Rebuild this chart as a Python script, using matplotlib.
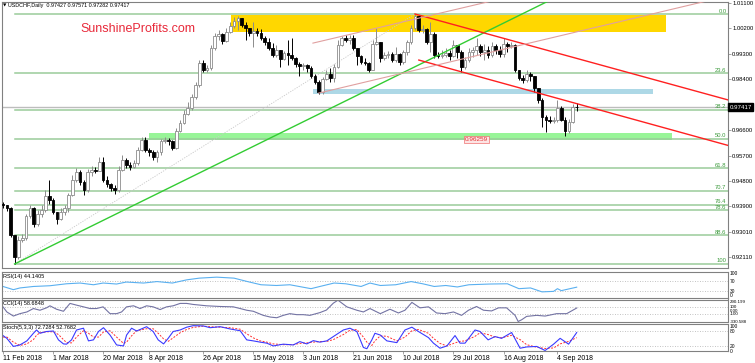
import matplotlib
matplotlib.use("Agg")
import matplotlib.pyplot as plt
import matplotlib.transforms as mtransforms
import numpy as np

plt.rcParams['font.family'] = ['Liberation Sans', 'DejaVu Sans']

# USDCHF daily, 12 Feb 2018 .. 7 Sep 2018
first_open = 0.9400
closes = [0.9395, 0.9384, 0.9289, 0.9211, 0.9271, 0.9278, 0.9356, 0.9384, 0.9328, 0.9363,
          0.9377, 0.9427, 0.9413, 0.9370, 0.9346, 0.9370, 0.9384, 0.9430, 0.9483, 0.9512,
          0.9476, 0.9448, 0.9512, 0.9518, 0.9515, 0.9547, 0.9483, 0.9469, 0.9455, 0.9448,
          0.9518, 0.9554, 0.9536, 0.9529, 0.9544, 0.9589, 0.9625, 0.9589, 0.9582, 0.9565,
          0.9582, 0.9621, 0.9625, 0.9621, 0.9597, 0.9657, 0.9685, 0.9717, 0.9738, 0.9777,
          0.9820, 0.9897, 0.9873, 0.9880, 0.9951, 0.9993, 1.0000, 0.9975, 1.0007, 1.0028,
          1.0046, 1.0057, 1.0032, 1.0021, 1.0004, 1.0011, 1.0004, 0.9986, 0.9972, 0.9951,
          0.9926, 0.9943, 0.9912, 0.9933, 0.9926, 0.9915, 0.9894, 0.9887, 0.9890, 0.9880,
          0.9852, 0.9830, 0.9795, 0.9841, 0.9859, 0.9844, 0.9883, 0.9961, 0.9986, 0.9979,
          0.9986, 0.9951, 0.9922, 0.9901, 0.9897, 0.9873, 0.9965, 0.9972, 0.9915, 0.9926,
          0.9929, 0.9908, 0.9929, 0.9901, 0.9936, 0.9972, 1.0021, 1.0064, 1.0014, 1.0018,
          0.9972, 1.0000, 0.9926, 0.9922, 0.9926, 0.9933, 0.9922, 0.9961, 0.9936, 0.9883,
          0.9908, 0.9936, 0.9943, 0.9958, 0.9936, 0.9943, 0.9926, 0.9958, 0.9943, 0.9929,
          0.9965, 0.9958, 0.9961, 0.9873, 0.9844, 0.9837, 0.9859, 0.9852, 0.9809, 0.9766,
          0.9706, 0.9695, 0.9692, 0.9695, 0.9738, 0.9695, 0.9657, 0.9688, 0.97427, 0.97417]
highs = [0.9406, 0.9395, 0.9388, 0.9289, 0.9285, 0.9292, 0.9363, 0.9395, 0.9388, 0.9377,
         0.9395, 0.9448, 0.9483, 0.9420, 0.9370, 0.9384, 0.9395, 0.9437, 0.9501, 0.9526,
         0.9518, 0.9483, 0.9522, 0.9533, 0.9529, 0.9565, 0.9565, 0.9498, 0.9473, 0.9465,
         0.9533, 0.9571, 0.9561, 0.9547, 0.9554, 0.9600, 0.9636, 0.9636, 0.9597, 0.9589,
         0.9589, 0.9629, 0.9636, 0.9632, 0.9625, 0.9667, 0.9695, 0.9731, 0.9759, 0.9788,
         0.9830, 0.9908, 0.9908, 0.9890, 0.9961, 1.0004, 1.0014, 1.0004, 1.0021, 1.0043,
         1.0060, 1.0064, 1.0057, 1.0043, 1.0021, 1.0043, 1.0021, 1.0018, 0.9993, 0.9986,
         0.9968, 0.9961, 0.9943, 0.9940, 0.9979, 0.9986, 0.9919, 0.9901, 0.9897, 0.9894,
         0.9887, 0.9859, 0.9837, 0.9848, 0.9873, 0.9880, 0.9894, 0.9979, 0.9993, 0.9997,
         0.9997, 0.9997, 0.9951, 0.9926, 0.9915, 0.9901, 0.9979, 1.0021, 0.9972, 0.9936,
         0.9940, 0.9936, 0.9954, 0.9933, 0.9943, 0.9979, 1.0032, 1.0071, 1.0067, 1.0032,
         1.0021, 1.0043, 1.0007, 0.9936, 0.9943, 0.9951, 0.9943, 0.9979, 0.9961, 0.9943,
         0.9919, 0.9951, 0.9954, 0.9986, 0.9965, 0.9965, 0.9958, 0.9972, 0.9965, 0.9958,
         0.9986, 0.9972, 0.9972, 0.9965, 0.9873, 0.9855, 0.9873, 0.9866, 0.9852, 0.9809,
         0.9773, 0.9713, 0.9710, 0.9706, 0.9766, 0.9745, 0.9706, 0.9699, 0.9752, 0.97571]
lows = [0.9384, 0.9374, 0.9282, 0.9186, 0.9205, 0.9264, 0.9271, 0.9349, 0.9317, 0.9321,
        0.9353, 0.9370, 0.9399, 0.9363, 0.9328, 0.9342, 0.9360, 0.9370, 0.9427, 0.9476,
        0.9465, 0.9430, 0.9441, 0.9498, 0.9508, 0.9515, 0.9476, 0.9458, 0.9444, 0.9434,
        0.9441, 0.9515, 0.9526, 0.9518, 0.9526, 0.9536, 0.9586, 0.9582, 0.9568, 0.9554,
        0.9547, 0.9571, 0.9614, 0.9607, 0.9589, 0.9593, 0.9653, 0.9681, 0.9713, 0.9731,
        0.9770, 0.9812, 0.9866, 0.9866, 0.9873, 0.9943, 0.9979, 0.9965, 0.9972, 1.0004,
        1.0021, 1.0014, 1.0025, 0.9979, 0.9993, 0.9954, 0.9993, 0.9979, 0.9961, 0.9943,
        0.9919, 0.9919, 0.9883, 0.9908, 0.9890, 0.9908, 0.9883, 0.9852, 0.9873, 0.9866,
        0.9844, 0.9823, 0.9788, 0.9788, 0.9837, 0.9830, 0.9830, 0.9880, 0.9958, 0.9972,
        0.9965, 0.9943, 0.9890, 0.9894, 0.9890, 0.9866, 0.9873, 0.9961, 0.9901, 0.9908,
        0.9915, 0.9901, 0.9901, 0.9890, 0.9894, 0.9926, 0.9965, 1.0014, 1.0007, 1.0004,
        0.9965, 0.9936, 0.9915, 0.9915, 0.9915, 0.9919, 0.9908, 0.9919, 0.9915, 0.9866,
        0.9876, 0.9901, 0.9919, 0.9926, 0.9922, 0.9908, 0.9915, 0.9919, 0.9929, 0.9919,
        0.9919, 0.9936, 0.9951, 0.9866, 0.9837, 0.9827, 0.9830, 0.9834, 0.9795, 0.9756,
        0.9671, 0.9653, 0.9685, 0.9685, 0.9688, 0.9692, 0.9639, 0.9650, 0.9685, 0.97282]

date_bars = [0, 13, 26, 38, 52, 65, 78, 91, 104, 117, 130, 144]
date_labels = ['11 Feb 2018', '1 Mar 2018', '20 Mar 2018', '8 Apr 2018', '26 Apr 2018',
               '15 May 2018', '3 Jun 2018', '21 Jun 2018', '10 Jul 2018', '29 Jul 2018',
               '16 Aug 2018', '4 Sep 2018']
price_ticks = [1.011, 1.002, 0.993, 0.984, 0.966, 0.957, 0.948, 0.939, 0.9301, 0.9211]
last_price = 0.97417

# fibonacci retracement (low bar 3 -> high bar 107)
fib_low, fib_high = 0.9187, 1.0070
fib_levels = [0.0, 23.6, 38.2, 50.0, 61.8, 70.7, 76.4, 78.6, 88.6, 100]
fib_names = ['0.0', '23.6', '38.2', '50.0', '61.8', '70.7', '76.4', '78.6', '88.6', '100']

# trend lines: (bar, price) anchors
uptrend = [(3, 0.9186), (129, 1.0032)]
red_upper = [(107, 1.0071), (188, 0.9768)]
red_lower = [(108, 0.9908), (188, 0.9607)]
pink_upper = [(80.5, 0.9968), (125.8, 1.01135)]
pink_lower = [(82, 0.9791), (184, 1.0121)]
fib_diag = [(3, 0.9186), (107, 1.0071)]

# zones: (bar start, bar end, price low, price high)
yellow_zone = (59.2, 172.1, 1.0007, 1.0068)
blue_zone = (80.6, 168.8, 0.9788, 0.9805)
green_zone = (37.9, 173.8, 0.96259, 0.9649)

# indicators
rsi_pos = [0, 2.7, 4.4, 7.9, 12.2, 16.5, 20, 23.5, 26, 29.5, 32, 36.5, 40, 44, 47.7, 51, 55.5,
           60, 63.5, 67, 71, 74.5, 80, 82.3, 86, 89, 93, 95.3, 98, 102, 106, 109, 112, 115,
           118, 121, 126.5, 131, 134, 137, 140, 143, 144, 145, 149]
rsi_vals = [47, 34, 41, 47, 50, 58, 61, 54, 61, 57, 65, 61, 67, 61, 74, 81, 85, 81, 67, 54, 51,
            54, 38, 47, 61, 58, 47, 61, 51, 54, 67, 58, 47, 51, 45, 54, 57, 58, 38, 41, 25, 27,
            38, 30, 44.14]
cci_pos = [0, 1, 2.7, 4.4, 6.2, 7.9, 9.6, 11.3, 12.2, 13.9, 15.7, 17.4, 19.1, 20.9, 22.6, 24.3,
           26, 27.8, 29.5, 30.8, 32.1, 33.9, 35.6, 37.3, 39, 40.8, 42.5, 44.2, 46, 47.7, 49.4,
           52.9, 56.4, 59.8, 61.6, 63.3, 65, 67.6, 69.4, 71.1, 72.8, 74.5, 76.3, 78, 79.7, 82.3,
           84, 85.8, 87, 89.3, 91.9, 93.6, 95.3, 98, 100.5, 102.7, 104.4, 106.2, 108.3, 110.5,
           112.6, 114.8, 117, 119.1, 120.9, 123, 124.8, 126.9, 128.7, 130.8, 133, 133.8, 134.7,
           136, 138.6, 140.8, 143.8, 146.4, 149]
cci_vals = [93, -55, -173, -104, -55, 44, -5, 64, 123, 24, -35, 192, 142, 93, 44, 44, 93, -104,
            -104, -55, 93, 123, 44, 123, 93, 14, 93, 123, 192, 192, 162, 123, 103, 93, 44, -5,
            -35, -153, -202, -222, -153, -104, -133, -133, -153, -74, 0, 200, 285, 93, -5, -55,
            44, -104, 24, -84, -5, 221, 64, 93, -84, -104, -55, -153, -5, 103, -5, -25, 64, 64,
            -153, -330, -281, -183, -153, -173, -104, -104, 58.68]
stoch_pos = [0, 1, 2.7, 4.4, 6.2, 7.9, 8.7, 9.6, 11.3, 13.1, 14.4, 15.7, 16.5, 17.8, 19.1, 20.9,
             22.2, 23.5, 24.8, 26.1, 27.8, 29.5, 31.3, 32.1, 33.4, 34.7, 37.3, 39, 40.3, 41.7,
             42.9, 44.2, 46, 47.7, 49.4, 52, 53.8, 56.4, 59, 61.6, 63.3, 65, 66.8, 68.5, 70.2,
             72.8, 75.4, 77.1, 78.9, 80.6, 82.3, 84.1, 85.8, 88.4, 90.1, 91.9, 93.6, 94.5, 95.8,
             96.6, 98, 99.7, 102.3, 104.4, 106.2, 107.9, 110.5, 111.8, 113.5, 115.3, 117.4,
             118.7, 120, 122.6, 123.9, 126, 127.8, 129.5, 132.1, 134.3, 136, 138.6, 140.8, 143,
             144.7, 146.9, 149]
stoch_main = [61, 50, 18, 24, 40, 70, 83, 70, 77, 79, 44, 28, 27, 44, 83, 90, 40, 44, 77, 92,
              63, 24, 20, 63, 90, 79, 96, 77, 44, 28, 50, 77, 83, 94, 100, 99, 92, 96, 87, 80,
              44, 40, 35, 31, 20, 27, 24, 37, 28, 41, 35, 40, 57, 83, 90, 77, 14, 9, 44, 70,
              63, 40, 33, 83, 94, 77, 53, 31, 11, 20, 61, 31, 31, 83, 77, 44, 57, 50, 73, 11,
              16, 18, 2, 27, 50, 27, 72.73]
stoch_signal = [55, 55, 35, 22, 28, 45, 62, 72, 76, 76, 65, 45, 33, 32, 55, 80, 70, 55, 55, 75,
                80, 55, 30, 35, 60, 80, 88, 88, 70, 48, 38, 52, 72, 85, 93, 98, 96, 94, 92, 86,
                68, 52, 40, 35, 28, 25, 25, 30, 32, 35, 37, 38, 45, 65, 82, 85, 55, 35, 22, 40,
                60, 58, 40, 55, 80, 85, 70, 50, 30, 20, 32, 38, 40, 58, 72, 65, 55, 52, 62, 45,
                25, 15, 10, 12, 28, 38, 52.77]

W, H = 755, 363
frame = '#808080'


def box(top, bottom, left=2, right=728):
    return [left / W, 1 - bottom / H, (right - left) / W, (bottom - top) / H]


def style(ax):
    for s in ax.spines.values():
        s.set_color(frame)
        s.set_linewidth(0.8)
    ax.set_xlim(-0.26, 188.3)
    ax.set_xticks([])
    ax.yaxis.tick_right()
    ax.tick_params(axis='y', length=2, width=0.5, color=frame, pad=1, labelsize=4.2)


def ray(ax, pts, x_end, **kw):
    (x0, y0), (x1, y1) = pts
    k = (y1 - y0) / (x1 - x0)
    ax.plot([x0, x_end], [y0, y0 + k * (x_end - x0)], **kw)


fig = plt.figure(figsize=(W / 100, H / 100), dpi=100)
fig.patch.set_facecolor('white')

# ---------- main price panel ----------
ax = fig.add_axes(box(2, 268))
style(ax)
ax.set_ylim(0.91719, 1.01135)
ax.set_yticks(price_ticks)
ax.set_yticklabels(['%.5f' % p for p in price_ticks])

for x0, x1, y0, y1, col in [yellow_zone + ('#ffd700',), blue_zone + ('#add8e6',),
                            green_zone + ('#98f598',)]:
    ax.fill_between([x0, x1], y0, y1, color=col, lw=0, zorder=1)

rng = fib_high - fib_low
for lev, name in zip(fib_levels, fib_names):
    y = fib_high - rng * lev / 100
    ax.plot([3, 188.3], [y, y], color='#9acb9a', lw=1.1, zorder=2)
    ax.text(187.9, y + 0.0002, name, ha='right', va='bottom', fontsize=4.2,
            color='#3d9b3d', zorder=6)

ax.axhline(last_price, color='#bdbdbd', lw=1.0, zorder=2)
ray(ax, fib_diag, fib_diag[1][0], color='#c8c8c8', lw=0.6, ls=(0, (1.5, 1.5)), zorder=2)

o = np.array([first_open] + closes[:-1])
c = np.array(closes)
h = np.array(highs)
l = np.array(lows)
x = np.arange(len(c))
up = c >= o
ax.vlines(x[up], l[up], h[up], color='#8c8c8c', lw=0.7, zorder=3)
ax.vlines(x[~up], l[~up], h[~up], color='black', lw=0.7, zorder=3)
bot = np.minimum(o, c)
hgt = np.maximum(np.abs(c - o), 0.00008)
ax.bar(x[up], hgt[up], bottom=bot[up], width=0.7, color='white',
       edgecolor='#8c8c8c', lw=0.6, zorder=4)
ax.bar(x[~up], hgt[~up], bottom=bot[~up], width=0.7, color='black',
       edgecolor='black', lw=0.6, zorder=4)

ray(ax, uptrend, 188.3, color='#33cc33', lw=1.0, zorder=5)
ray(ax, red_upper, 188.3, color='#ff2020', lw=1.0, zorder=5)
ray(ax, red_lower, 188.3, color='#ff2020', lw=1.0, zorder=5)
ray(ax, pink_upper, 188.3, color='#e0a0a0', lw=0.8, zorder=5)
ray(ax, pink_lower, 188.3, color='#e0a0a0', lw=0.8, zorder=5)

ax.text(123, green_zone[2], '%.5f' % green_zone[2], ha='center', va='center', fontsize=4.6,
        color='#e03030', zorder=7,
        bbox=dict(boxstyle='square,pad=0.15', fc='#fde4e4', ec='#f07070', lw=0.5))

trans = mtransforms.blended_transform_factory(ax.transAxes, ax.transData)
ax.text(1.002, last_price, '%.5f' % last_price, transform=trans, ha='left', va='center',
        fontsize=4.4, color='white', zorder=8, clip_on=False,
        bbox=dict(boxstyle='square,pad=0.2', fc='black', ec='black'))

ax.text(35, 1.0018, 'SunshineProfits.com', ha='center', va='center', fontsize=9,
        color='#e8293a', zorder=7)
fig.text(3 / W, 1 - 5.5 / H, '\u25bc', fontsize=3.2, va='center', family='DejaVu Sans')
fig.text(8 / W, 1 - 5.5 / H, 'USDCHF,Daily  0.97427 0.97571 0.97282 0.97417',
         fontsize=3.9, va='center')

# ---------- RSI ----------
ax_rsi = fig.add_axes(box(272, 298))
style(ax_rsi)
ax_rsi.set_ylim(1, 106)
for lv in [70, 30]:
    ax_rsi.axhline(lv, color='#b0b0b0', lw=0.6, ls=(0, (1, 2)))
ax_rsi.plot(rsi_pos, rsi_vals, color='#5ab0f0', lw=0.8)
ax_rsi.set_yticks([100, 70, 30, 0])
ax_rsi.set_yticklabels(['100', '70', '30', '0'])
ax_rsi.tick_params(axis='y', length=0, labelsize=3.5)
ax_rsi.get_yticklabels()[-1].set_verticalalignment('bottom')
ax_rsi.text(0.002, 0.93, 'RSI(14) 44.1405', transform=ax_rsi.transAxes, va='top',
            fontsize=4.0)

# ---------- CCI ----------
ax_cci = fig.add_axes(box(299.5, 322))
style(ax_cci)
ax_cci.set_ylim(-345, 305)
for lv in [100, -100]:
    ax_cci.axhline(lv, color='#b0b0b0', lw=0.6, ls=(0, (1, 2)))
ax_cci.plot(cci_pos, cci_vals, color='#7373a3', lw=0.8)
ax_cci.set_yticks([290.199, 100, 0, -100, -330.588])
ax_cci.set_yticklabels(['290.199', '100', '0.00', '-100', '-330.588'])
ax_cci.tick_params(axis='y', length=0, labelsize=3.2)
ax_cci.get_yticklabels()[0].set_verticalalignment('top')
ax_cci.text(0.002, 0.93, 'CCI(14) 58.6848', transform=ax_cci.transAxes, va='top',
            fontsize=4.0)

# ---------- Stochastic ----------
ax_st = fig.add_axes(box(323.5, 351))
style(ax_st)
ax_st.set_ylim(0.8, 108.6)
for lv in [80, 20]:
    ax_st.axhline(lv, color='#b0b0b0', lw=0.6, ls=(0, (1, 2)))
ax_st.plot(stoch_pos, stoch_signal, color='#ff3030', lw=0.7, ls=(0, (2, 1.5)))
ax_st.plot(stoch_pos, stoch_main, color='#3a3aff', lw=0.8)
ax_st.set_yticks([100, 80, 20, 0])
ax_st.set_yticklabels(['100', '80', '20', '0'])
ax_st.tick_params(axis='y', length=0, labelsize=3.5)
ax_st.text(0.002, 0.95, 'Stoch(5,3,3) 72.7284 52.7682', transform=ax_st.transAxes, va='top',
           fontsize=4.0)
ax_st.set_xticks(date_bars)
ax_st.set_xticklabels(date_labels, ha='left')
ax_st.tick_params(axis='x', length=2, width=0.5, color=frame, pad=1, labelsize=5.0)

fig.savefig('out.png', dpi=100)
